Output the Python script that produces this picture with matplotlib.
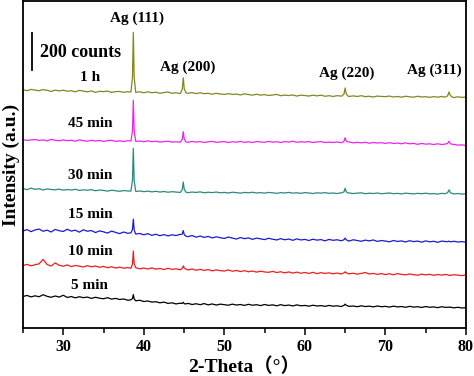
import matplotlib
matplotlib.use('Agg')
import matplotlib.pyplot as plt
import numpy as np

# XRD patterns, intensity in counts on a 0.5 degree grid from 25 to 80
theta_start, theta_end = 25, 80

counts_5min = [100, 106, 98, 104, 99, 110, 101, 96, 103, 97,
               107, 95, 100, 93, 99, 94, 97, 90, 96, 91,
               88, 94, 86, 90, 84, 87, 80, 83, 77, 80,
               73, 76, 70, 72, 66, 70, 63, 66, 60, 64,
               58, 63, 57, 61, 56, 62, 55, 60, 54, 59,
               56, 53, 59, 54, 57, 52, 58, 53, 56, 51,
               57, 52, 55, 50, 56, 51, 54, 49, 55, 50,
               52, 48, 53, 49, 51, 47, 52, 48, 50, 46,
               53, 47, 49, 45, 50, 46, 48, 44, 49, 45,
               47, 43, 48, 44, 46, 42, 47, 43, 45, 41,
               46, 42, 44, 40, 45, 41, 43, 39, 42, 38,
               40]
counts_10min = [98, 104, 96, 102, 107, 131, 103, 95, 112, 99,
                94, 101, 92, 98, 94, 90, 97, 91, 95, 88,
                93, 86, 91, 84, 89, 83, 87, 82, 86, 80,
                84, 79, 85, 78, 82, 76, 83, 77, 80, 75,
                81, 74, 79, 72, 77, 71, 76, 69, 74, 70,
                68, 74, 67, 71, 65, 70, 64, 68, 62, 67,
                63, 61, 66, 60, 64, 58, 63, 57, 62, 56,
                60, 55, 61, 54, 59, 55, 58, 53, 57, 52,
                58, 53, 56, 51, 55, 60, 52, 55, 50, 54,
                49, 53, 48, 54, 50, 47, 52, 48, 45, 51,
                47, 50, 45, 49, 46, 50, 44, 48, 46, 43,
                47]
counts_15min = [104, 112, 101, 110, 115, 103, 109, 99, 113, 106,
                102, 114, 104, 109, 98, 111, 103, 107, 96, 105,
                100, 93, 104, 97, 90, 99, 92, 95, 88, 91,
                84, 90, 81, 87, 79, 85, 78, 84, 80, 86,
                78, 74, 80, 71, 77, 70, 75, 67, 73, 68,
                64, 72, 66, 61, 69, 63, 67, 59, 66, 62,
                58, 65, 60, 56, 63, 57, 61, 54, 62, 56,
                59, 53, 60, 55, 58, 51, 59, 54, 57, 52,
                56, 50, 57, 53, 49, 55, 51, 56, 48, 53,
                50, 46, 53, 48, 51, 45, 52, 47, 50, 44,
                51, 46, 49, 43, 50, 47, 44, 49, 45, 47,
                44]
counts_30min = [74, 68, 76, 70, 73, 66, 72, 69, 67, 71,
                65, 69, 66, 70, 64, 67, 65, 68, 62, 66,
                64, 60, 65, 62, 59, 63, 61, 60, 58, 61,
                57, 60, 56, 59, 55, 58, 54, 57, 55, 53,
                56, 52, 55, 53, 56, 51, 54, 52, 55, 51,
                53, 50, 54, 52, 49, 53, 51, 54, 50, 52,
                49, 53, 51, 48, 52, 50, 53, 49, 51, 48,
                52, 50, 47, 51, 49, 52, 48, 50, 47, 51,
                49, 50, 47, 49, 51, 46, 49, 47, 50, 46,
                48, 50, 46, 48, 45, 49, 47, 45, 48, 46,
                49, 45, 47, 44, 48, 46, 47, 45, 47, 44,
                46]
counts_45min = [69, 64, 67, 69, 64, 67, 62, 70, 65, 62,
                67, 63, 65, 60, 67, 63, 60, 65, 61, 64,
                59, 63, 65, 59, 62, 58, 63, 60, 59, 61,
                57, 62, 57, 60, 55, 58, 60, 55, 57, 55,
                58, 54, 59, 55, 58, 53, 57, 59, 54, 56,
                58, 53, 57, 55, 59, 54, 57, 53, 58, 56,
                54, 59, 55, 57, 53, 58, 55, 60, 54, 57,
                55, 58, 53, 56, 58, 53, 55, 53, 56, 52,
                54, 56, 51, 54, 51, 54, 49, 53, 50, 52,
                48, 52, 48, 50, 46, 51, 46, 48, 43, 48,
                44, 46, 42, 46, 42, 45, 41, 43, 39, 40,
                37]
counts_1h = [89, 83, 90, 86, 83, 89, 85, 79, 86, 82,
             86, 80, 83, 77, 85, 81, 77, 82, 74, 80,
             78, 81, 74, 78, 79, 74, 78, 75, 74, 77,
             72, 77, 72, 75, 69, 73, 76, 69, 72, 68,
             73, 69, 73, 67, 72, 67, 69, 64, 69, 65,
             63, 67, 63, 65, 60, 66, 62, 59, 64, 59,
             62, 57, 60, 63, 56, 59, 57, 60, 54, 59,
             57, 54, 59, 55, 59, 53, 56, 52, 56, 54,
             55, 52, 55, 52, 56, 51, 53, 49, 54, 52,
             51, 54, 49, 52, 48, 53, 50, 48, 53, 49,
             51, 47, 51, 48, 52, 47, 50, 46, 50, 47,
             49]

# Ag reflections and their height above the background for each sample
peak_pos = [38.7, 44.9, 65.0, 77.9]
peak_names = ["Ag (111)", "Ag (200)", "Ag (220)", "Ag (311)"]
peaks_5min = [30, 10, 6, 0]
peaks_10min = [92, 16, 6, 0]
peaks_15min = [76, 27, 10, 5]
peaks_30min = [232, 54, 27, 20]
peaks_45min = [222, 54, 25, 18]
peaks_1h = [324, 81, 43, 27]

sample_names = ["5 min", "10 min", "15 min", "30 min", "45 min", "1 h"]
all_counts = [counts_5min, counts_10min, counts_15min, counts_30min, counts_45min, counts_1h]
all_peaks = [peaks_5min, peaks_10min, peaks_15min, peaks_30min, peaks_45min, peaks_1h]

# drawing settings
offsets = [70, 240, 420, 680, 950, 1200]
colors = ['black', '#ee1c1c', '#1a1ad6', '#2a8a80', '#ee22ee', '#858520']
peak_halfwidth = [0.3, 0.35, 0.4, 0.5]
label_y = [232, 416, 616, 827, 1103, 1357]
peak_label_xy = [(39.2, 1676), (45.5, 1411), (65.2, 1379), (76.1, 1395)]


def pattern(counts, heights):
    x = np.linspace(theta_start, theta_end, len(counts))
    y = np.array(counts, dtype=float)
    keep = np.ones(len(x), dtype=bool)
    for c, hw in zip(peak_pos, peak_halfwidth):
        keep &= np.abs(x - c) >= hw
    px, py = list(x[keep]), list(y[keep])
    for c, h, hw in zip(peak_pos, heights, peak_halfwidth):
        for dx, frac in zip([-1, -0.35, 0, 0.35, 1], [0, 0.25, 1, 0.25, 0]):
            xx = c + dx * hw
            px.append(xx)
            py.append(np.interp(xx, x, y) + frac * h)
    order = np.argsort(px)
    return np.array(px)[order], np.array(py)[order]


plt.rcParams['font.family'] = ['Liberation Serif', 'Noto Sans CJK SC']
plt.rcParams['font.weight'] = 'bold'

fig = plt.figure(figsize=(4.74, 3.76), dpi=100)
ax = fig.add_axes([0.0485, 0.1277, 0.9345, 0.8696])

for counts, heights, off, col, name, ly in zip(all_counts, all_peaks, offsets, colors, sample_names, label_y):
    x, y = pattern(counts, heights)
    ax.plot(x, y + off, color=col, linewidth=0.9)
    ax.text(33.3, ly, name, ha='center', va='center', fontsize=11, fontweight='bold')

for name, (tx, ty) in zip(peak_names, peak_label_xy):
    ax.text(tx, ty, name, ha='center', va='center', fontsize=11, fontweight='bold')

# 200 counts scale bar
ax.plot([26.1, 26.1], [1395, 1595], color='black', linewidth=1.3)
ax.text(27.1, 1492, "200 counts", ha='left', va='center', fontsize=13, fontweight='bold')

ax.set_xlim(25, 80)
ax.set_ylim(0, 1768)
ax.set_yticks([])
ax.set_xticks([30, 40, 50, 60, 70, 80])
ax.set_xticks([25, 35, 45, 55, 65, 75], minor=True)
ax.tick_params(axis='x', which='major', direction='out', length=5, width=1.1, labelsize=11.5, pad=3)
ax.tick_params(axis='x', which='minor', direction='out', length=3.5, width=1.1)
for lab in ax.get_xticklabels():
    lab.set_fontweight('bold')
for sp in ax.spines.values():
    sp.set_linewidth(1.3)

ax.set_xlabel("2-Theta（°）", fontsize=14, fontweight='bold', labelpad=2)
ax.set_ylabel("Intensity (a.u.)", fontsize=14, fontweight='bold', labelpad=2)

plt.savefig("out.png", dpi=100)
